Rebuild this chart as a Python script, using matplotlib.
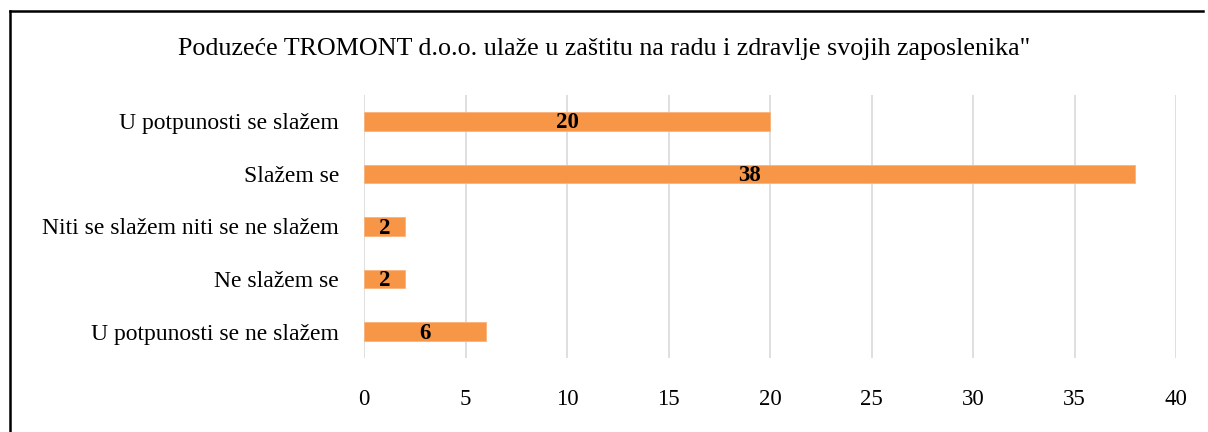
import matplotlib
matplotlib.use("Agg")
import matplotlib.pyplot as plt
from matplotlib.lines import Line2D

title = "Poduzeće TROMONT d.o.o. ulaže u zaštitu na radu i zdravlje svojih zaposlenika\""
categories = ["U potpunosti se slažem", "Slažem se", "Niti se slažem niti se ne slažem",
              "Ne slažem se", "U potpunosti se ne slažem"]
values = [20, 38, 2, 2, 6]
xticks = [0, 5, 10, 15, 20, 25, 30, 35, 40]

plt.rcParams['font.family'] = ['Liberation Serif', 'DejaVu Serif']

fig = plt.figure(figsize=(12.08, 4.32), dpi=100)
ax = fig.add_axes([364/1208, 1-358/432, (1176-364)/1208, (358-95)/432])

ypos = list(range(len(categories)))
ax.barh(ypos, values, height=0.35, color='#F79646', edgecolor='#FAB27A', linewidth=0.6, zorder=3)
for y, v in zip(ypos, values):
    ax.text(v/2, y + 0.03, str(v), ha='center', va='center', fontsize=16.5, fontweight='bold', color='black', zorder=4)

ax.set_yticks(ypos)
ax.set_yticklabels(categories, fontsize=17)
ax.set_ylim(len(categories)-0.5, -0.5)
ax.set_xlim(0, 40)
ax.set_xticks(xticks)
ax.set_xticklabels([str(t) for t in xticks], fontsize=16.5)
ax.tick_params(axis='both', length=0)
ax.tick_params(axis='x', pad=22)
ax.tick_params(axis='y', pad=18)
ax.grid(axis='x', color='#D9D9D9', linewidth=1.2, zorder=0)
for s in ax.spines.values():
    s.set_visible(False)

fig.text(0.5, 1-49/432, title, ha='center', va='center', fontsize=18.7)

fig.add_artist(Line2D([9.5/1208, 9.5/1208], [0, 1-10.5/432], transform=fig.transFigure, color='black', linewidth=1.8))
fig.add_artist(Line2D([9.5/1208, 1203/1208], [1-10.5/432, 1-10.5/432], transform=fig.transFigure, color='black', linewidth=1.8))

fig.savefig("out.png", dpi=100)
